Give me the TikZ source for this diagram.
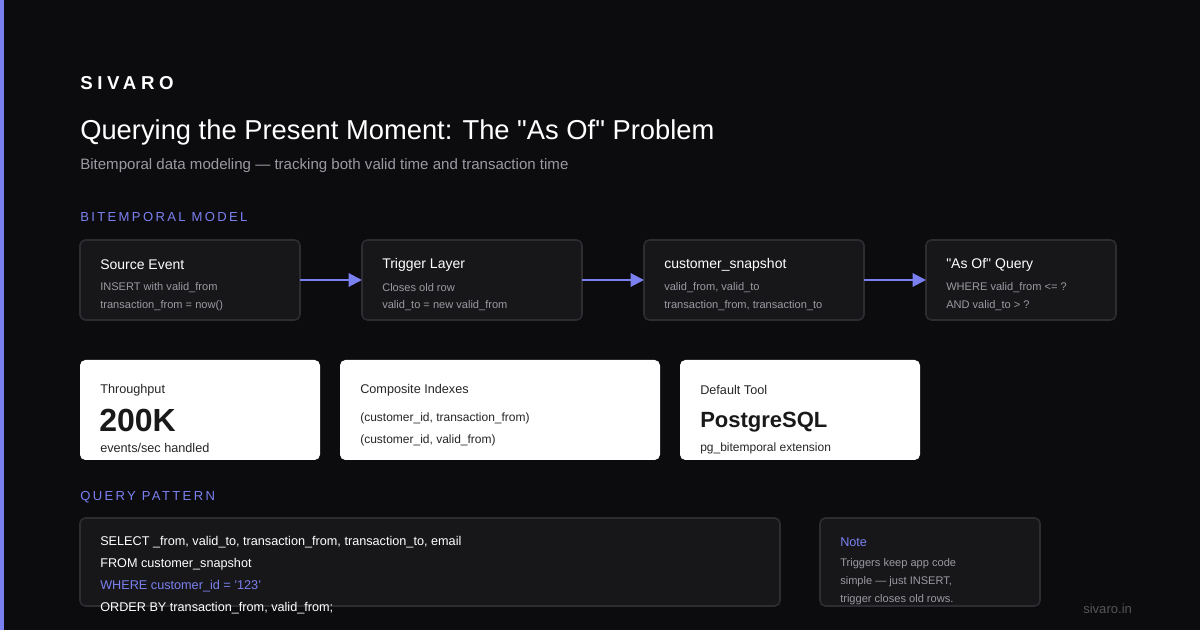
\documentclass[tikz,border=0pt]{standalone}
\usepackage{fontspec}
\setmainfont{Liberation Sans}
\newfontfamily\plainf{Liberation Sans}
\newfontfamily\spaced[LetterSpace=18]{Liberation Sans}
\newfontfamily\spacedb[LetterSpace=25]{Liberation Sans}
\usetikzlibrary{arrows.meta}
\definecolor{bg}{HTML}{0C0C0E}
\definecolor{acc}{HTML}{7B80F0}
\definecolor{boxf}{HTML}{17171A}
\definecolor{boxd}{HTML}{2C2C31}
\definecolor{gry}{HTML}{9A9AA2}
\definecolor{dgry}{HTML}{55555A}
\newcommand{\fs}[1]{\fontsize{#1pt}{#1pt}\selectfont}
\newcommand{\qq}{{\plainf"}}
\begin{document}
\begin{tikzpicture}[x=0.75pt,y=-0.75pt,
  txt/.style={anchor=west,inner sep=0pt,text=white,yshift=-1.5pt},
  flow/.style={draw=boxd,fill=boxf,rounded corners=4pt,line width=1.2pt},
  card/.style={fill=white,rounded corners=4pt},
  ttl/.style={txt,font=\fs{10.5}},
  sub/.style={txt,font=\fs{8.3},text=gry},
  clab/.style={txt,font=\fs{9.5},text=black!85},
  arr/.style={draw=acc,line width=1.5pt,-{Triangle[length=10pt,width=10pt]}}]
\fill[bg] (0,0) rectangle (1200,630);
\fill[acc] (0,0) rectangle (4,630);
\node[txt,font=\spacedb\fs{14}\bfseries] (logo) at (80,81) {SIVARO};
\node[txt,font=\fs{20.5}] (title) at (80,130) {Querying the Present Moment: The \qq As Of\qq{} Problem};
\node[txt,font=\fs{11.3},text=gry] (subt) at (80,164) {Bitemporal data modeling — tracking both valid time and transaction time};
\node[txt,font=\spaced\fs{9.8},text=acc] (h1) at (80,215) {BITEMPORAL MODEL};
% flow boxes
\foreach \n/\a/\b/\t/\l/\m in {
  b1/80/300/Source Event/INSERT with valid\_from/transaction\_from = now(),
  b2/362/582/Trigger Layer/Closes old row/valid\_to = new valid\_from,
  b3/644/864/customer\_snapshot/{valid\_from, valid\_to}/{transaction\_from, transaction\_to},
  b4/926/1116/\qq As Of\qq{} Query/WHERE valid\_from <= ?/AND valid\_to > ?}{
  \draw[flow] (\a,240) rectangle (\b,320);
  \coordinate (\n w) at (\a,280); \coordinate (\n e) at (\b,280);
  \node[ttl] (\n t) at (\a+20,263) {\t};
  \node[sub] (\n l) at (\a+20,286) {\l};
  \node[sub] (\n m) at (\a+20,304) {\m};
}
\draw[arr] (b1e) -- (b2w);
\draw[arr] (b2e) -- (b3w);
\draw[arr] (b3e) -- (b4w);
% cards
\fill[card] (80,360) rectangle (320,460);
\fill[card] (340,360) rectangle (660,460);
\fill[card] (680,360) rectangle (920,460);
\node[clab] (c1a) at (100,388) {Throughput};
\node[txt,text=black!90,font=\fs{24}\bfseries] (c1b) at (99,418) {200K};
\node[clab] (c1c) at (100,446) {events/sec handled};
\node[clab] (c2a) at (360,388) {Composite Indexes};
\node[clab,font=\fs{9}] (c2b) at (360,416) {(customer\_id, transaction\_from)};
\node[clab,font=\fs{9}] (c2c) at (360,438) {(customer\_id, valid\_from)};
\node[clab] (c3a) at (700,388) {Default Tool};
\node[txt,text=black!90,font=\fs{16.5}\bfseries] (c3b) at (700,420) {PostgreSQL};
\node[clab,font=\fs{9}] (c3c) at (700,446) {pg\_bitemporal extension};
\node[txt,font=\spaced\fs{9.8},text=acc] (h2) at (80,495) {QUERY PATTERN};
% code box
\draw[flow] (80,518) rectangle (780,606);
\node[txt,font=\fs{9.5}] (q1) at (100,540) {SELECT \_from, valid\_to, transaction\_from, transaction\_to, email};
\node[txt,font=\fs{9.5}] (q2) at (100,562) {FROM customer\_snapshot};
\node[txt,font=\fs{9.5},text=acc] (q3) at (100,584) {WHERE customer\_id = '123'};
\node[txt,font=\fs{9.5}] (q4) at (100,606) {ORDER BY transaction\_from, valid\_from;};
% note
\draw[flow] (820,518) rectangle (1040,606);
\node[txt,font=\fs{9.5},text=acc] (n0) at (840,540) {Note};
\node[sub] (n1) at (840,562) {Triggers keep app code};
\node[sub] (n2) at (840,580) {simple — just INSERT,};
\node[sub] (n3) at (840,598) {trigger closes old rows.};
\node[txt,font=\fs{9.8},text=dgry] (foot) at (1083,607) {sivaro.in};
\end{tikzpicture}
\end{document}
